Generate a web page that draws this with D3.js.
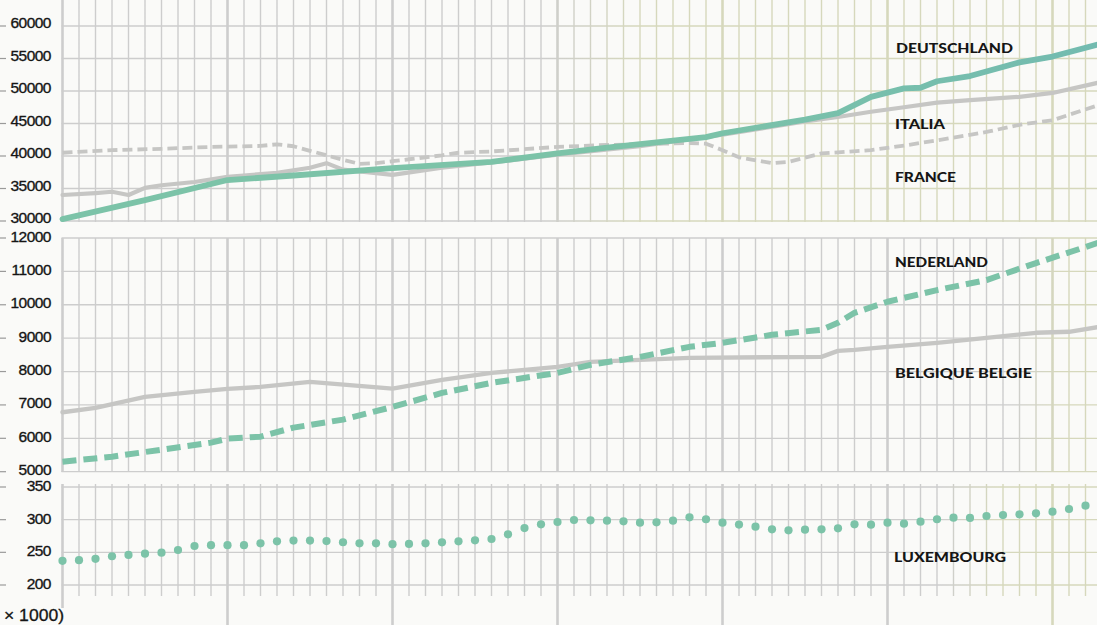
<!DOCTYPE html>
<html>
<head>
<meta charset="utf-8">
<script src="https://cdn.jsdelivr.net/npm/d3@7"></script>
<style>
  html, body { margin: 0; padding: 0; background: #fafaf8; }
  svg { display: block; }
</style>
</head>
<body>
<svg id="chart" width="1097" height="625"></svg>
<script>
// ---------------- DATA (population × 1000) ----------------
const years = [1900, 1963];

const deYears  = [1900,1905,1910,1914,1920,1926,1930,1933,1939,1940,1945,1947,1949,1951,1952,1953,1955,1958,1960,1963];
const deValues = [30300,33200,36300,37000,38150,39100,40400,41300,42900,43500,45600,46600,49100,50400,50500,51500,52300,54400,55300,57300];

const itYears  = [1900,1902,1903,1904,1905,1906,1908,1910,1913,1915,1916,1917,1920,1923,1926,1930,1935,1940,1945,1947,1949,1951,1953,1955,1958,1960,1963];
const itValues = [34000,34300,34500,34000,35100,35500,36000,36800,37400,38200,38900,37900,37100,38200,39000,40200,41500,43300,45300,46000,46800,47500,48200,48600,49100,49700,51400];

const frYears  = [1900,1903,1906,1909,1912,1913,1914,1915,1916,1917,1918,1919,1920,1921,1923,1924,1926,1930,1933,1938,1939,1940,1941,1943,1944,1946,1949,1951,1953,1956,1958,1960,1963];
const frValues = [40500,40900,41100,41400,41550,41800,41500,40800,40100,39400,38800,38900,39200,39500,40100,40500,40700,41400,41700,42000,41900,40900,39800,38900,39100,40400,40900,41600,42400,43700,44800,45500,48000];

const nlYears  = [1900,1903,1906,1909,1910,1912,1914,1917,1920,1923,1926,1930,1932,1935,1938,1940,1943,1946,1947,1948,1950,1953,1956,1959,1962,1963];
const nlValues = [5300,5450,5660,5870,5990,6050,6320,6560,6940,7360,7660,7960,8200,8440,8740,8860,9100,9250,9460,9760,10090,10440,10740,11250,11730,11900];

const beYears  = [1900,1902,1905,1908,1910,1912,1915,1920,1923,1926,1930,1932,1935,1938,1946,1947,1948,1950,1953,1956,1959,1961,1963];
const beValues = [6780,6910,7240,7390,7480,7540,7690,7490,7750,7960,8140,8290,8350,8410,8440,8620,8650,8740,8860,9010,9160,9190,9350];

const luFirstYear = 1900;
const luValues = [237,238,240,244,246,248,249.5,253.6,259.7,261,
                  261,261,263.8,266.8,268,268,267.3,265.4,263.8,263.8,
                  262.5,262.8,263.8,265.3,266.9,268.4,270.4,277.6,287.2,292.9,
                  296.4,299.5,299,298.5,297.5,295.4,296,298.5,303.6,300.6,
                  295.4,292.5,289.3,285.2,283.7,284.7,285.2,286.7,292.9,292.3,
                  295.4,293.9,296.9,300.6,303,302.6,305.6,307.1,308.2,309.7,
                  312.2,316.3,321.4];

const topTicks = [30000,35000,40000,45000,50000,55000,60000];
const midTicks = [5000,6000,7000,8000,9000,10000,11000,12000];
const botTicks = [200,250,300,350];

const labels = ["DEUTSCHLAND","ITALIA","FRANCE","NEDERLAND","BELGIQUE BELGIE","LUXEMBOURG"];
const unitLabel = "× 1000)";

// ---------------- LAYOUT ----------------
const W = 1097, H = 625;
const svg = d3.select("#chart");
const x = d3.scaleLinear().domain(years).range([62.5, 62.5 + 63 * 16.5]);

const panels = [
  { id: "top", y: d3.scaleLinear().domain([30000, 60000]).range([221, 26]), ticks: topTicks,
    gTop: 0, gBot: 222, lblOff: -3.5, tintFrom: 540, tintTo: 640 },
  { id: "mid", y: d3.scaleLinear().domain([5000, 12000]).range([471.7, 238]), ticks: midTicks,
    gTop: 238, gBot: 472, lblOff: -2, tintFrom: 1010, tintTo: 1060 },
  { id: "bot", y: d3.scaleLinear().domain([200, 350]).range([585, 487]), ticks: botTicks,
    gTop: 484, gBot: 596, lblOff: -1.5, tintFrom: 940, tintTo: 1000 }
];

svg.append("rect").attr("width", W).attr("height", H).attr("fill", "#fafaf8");

const defs = svg.append("defs");
panels.forEach(p => {
  const g = defs.append("linearGradient").attr("id", "grad-" + p.id)
    .attr("gradientUnits", "userSpaceOnUse")
    .attr("x1", 0).attr("y1", 0).attr("x2", W).attr("y2", 0);
  g.append("stop").attr("offset", p.tintFrom / W).attr("stop-color", "#cdcdcd");
  g.append("stop").attr("offset", p.tintTo / W).attr("stop-color", "#d6d8bc");
  g.append("stop").attr("offset", 1).attr("stop-color", "#d6d8bc");
});

const yearList = d3.range(1900, 1964);

// ---------------- GRID ----------------
panels.forEach(p => {
  const g = svg.append("g").attr("stroke", `url(#grad-${p.id})`).attr("fill", "none");
  g.selectAll("line.h").data(p.ticks).join("line")
    .attr("x1", x(1900) - 1).attr("x2", W)
    .attr("y1", d => p.y(d)).attr("y2", d => p.y(d))
    .attr("stroke-width", 1.3);
  g.selectAll("line.v").data(yearList).join("line")
    .attr("x1", d => x(d)).attr("x2", d => x(d))
    .attr("y1", p.gTop).attr("y2", p.gBot)
    .attr("stroke-width", d => d % 10 === 0 ? 2.6 : 1.4);
});
svg.append("g").attr("stroke", "url(#grad-bot)")
  .selectAll("line").data(yearList.filter(d => d % 10 === 0)).join("line")
  .attr("x1", d => x(d)).attr("x2", d => x(d))
  .attr("y1", 596).attr("y2", d => d === 1900 ? 608 : H)
  .attr("stroke-width", 2.6);

// ---------------- AXIS LABELS ----------------
panels.forEach(p => {
  const g = svg.append("g");
  g.selectAll("line").data(p.ticks).join("line")
    .attr("x1", 0).attr("x2", 6)
    .attr("y1", d => p.y(d)).attr("y2", d => p.y(d))
    .attr("stroke", "#9a9a9a").attr("stroke-width", 1.2);
  g.selectAll("text").data(p.ticks).join("text")
    .attr("x", 51).attr("y", d => p.y(d) + p.lblOff)
    .attr("text-anchor", "end").attr("dominant-baseline", "central")
    .attr("font-family", "Liberation Sans, Arial, sans-serif")
    .attr("font-size", 15.5).attr("fill", "#151515")
    .attr("stroke", "#151515").attr("stroke-width", 0.35)
    .attr("letter-spacing", -0.5)
    .text(d => d);
});
svg.append("text").attr("x", 4).attr("y", 621)
  .attr("textLength", 60).attr("lengthAdjust", "spacingAndGlyphs")
  .attr("font-family", "Liberation Sans, Arial, sans-serif")
  .attr("font-size", 16).attr("fill", "#151515")
  .attr("stroke", "#151515").attr("stroke-width", 0.3)
  .text(unitLabel);

// ---------------- SERIES ----------------
const teal = "#7cc3a8", teal2 = "#73bbb0", grey = "#c6c6c4";
function zipped(ys, vs) { return ys.map((yr, i) => [yr, vs[i]]); }
function drawLine(data, yScale, opts) {
  svg.append("path")
    .datum(data)
    .attr("fill", "none")
    .attr("stroke", opts.color)
    .attr("stroke-width", opts.width)
    .attr("stroke-linejoin", "round")
    .attr("stroke-linecap", opts.dash ? "butt" : "round")
    .attr("stroke-dasharray", opts.dash || null)
    .attr("d", d3.line().x(d => x(d[0])).y(d => yScale(d[1])));
}
const [pTop, pMid, pBot] = panels;

drawLine(zipped(frYears, frValues), pTop.y, { color: grey, width: 3.8, dash: "10 5" });
drawLine(zipped(itYears, itValues), pTop.y, { color: grey, width: 4.2 });
const dg = defs.append("linearGradient").attr("id", "deGrad")
  .attr("gradientUnits", "userSpaceOnUse").attr("x1", 0).attr("x2", W).attr("y1", 0).attr("y2", 0);
dg.append("stop").attr("offset", 0).attr("stop-color", teal);
dg.append("stop").attr("offset", 0.6).attr("stop-color", teal);
dg.append("stop").attr("offset", 1).attr("stop-color", teal2);
drawLine(zipped(deYears, deValues), pTop.y, { color: "url(#deGrad)", width: 5.8 });

drawLine(zipped(beYears, beValues), pMid.y, { color: grey, width: 4.4 });
drawLine(zipped(nlYears, nlValues), pMid.y, { color: teal, width: 6, dash: "14 7" });

svg.append("g").selectAll("circle")
  .data(luValues.map((v, i) => [luFirstYear + i, v]))
  .join("circle")
  .attr("cx", d => x(d[0])).attr("cy", d => pBot.y(d[1]))
  .attr("r", 4.1).attr("fill", teal);

// ---------------- SERIES LABELS ----------------
const labelPos = [
  { x: 896, y: 53, w: 117 },
  { x: 895, y: 129, w: 50 },
  { x: 895, y: 182, w: 61 },
  { x: 895, y: 267, w: 93 },
  { x: 895, y: 378, w: 137 },
  { x: 894, y: 562, w: 112 }
];
svg.append("g").selectAll("text").data(labels).join("text")
  .attr("x", (d, i) => labelPos[i].x).attr("y", (d, i) => labelPos[i].y)
  .attr("textLength", (d, i) => labelPos[i].w)
  .attr("lengthAdjust", "spacingAndGlyphs")
  .attr("font-family", "Lato, 'Open Sans', sans-serif")
  .attr("font-weight", 900)
  .attr("font-size", 13.5)
  .attr("fill", "#151515")
  .text(d => d);
</script>
</body>
</html>
